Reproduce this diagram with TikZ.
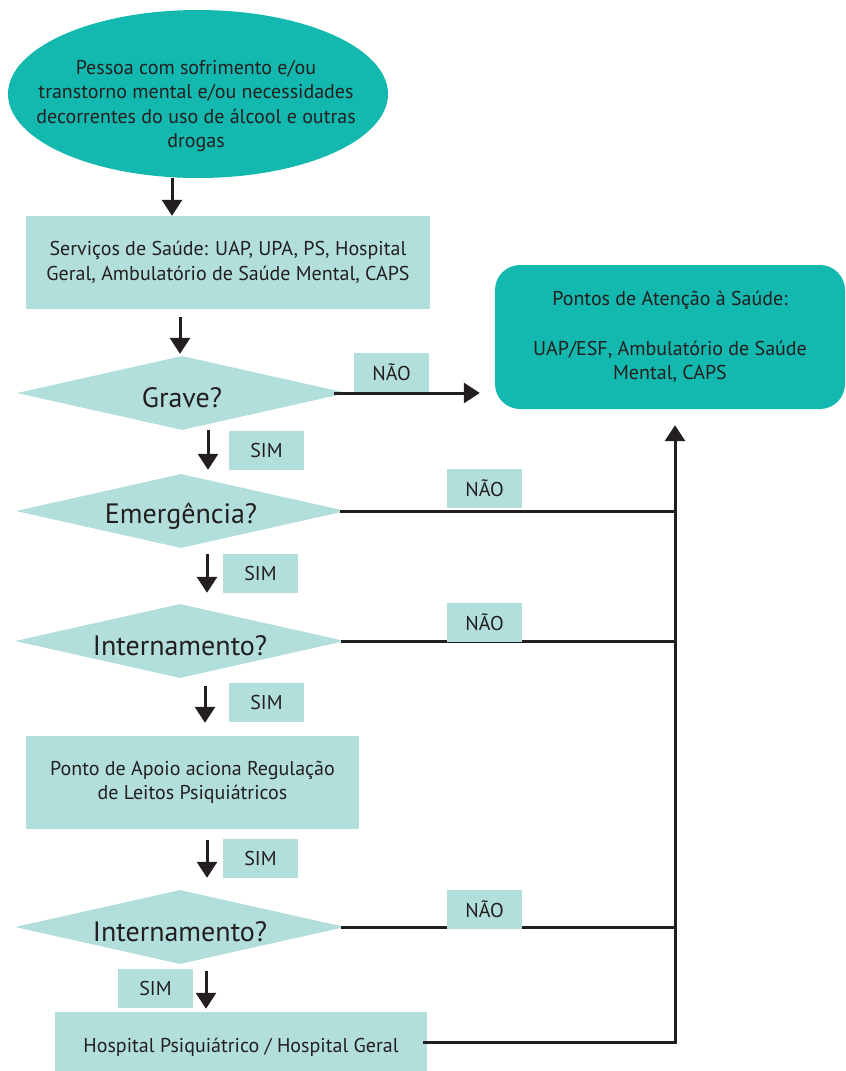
\documentclass[tikz,border=0pt]{standalone}
\usepackage{fontspec}
\setmainfont{PT Sans}
\usetikzlibrary{shapes.geometric,arrows.meta}
\definecolor{teal1}{HTML}{13B8AE}
\definecolor{light1}{HTML}{B2DFDB}
\definecolor{ink}{HTML}{231F20}
\newcommand{\lowtxt}[1]{\raisebox{-5pt}[\height][\depth]{#1}}
\begin{document}
\begin{tikzpicture}[x=1pt,y=-1pt,
 txt/.style={text=ink, font=\fontsize{20}{24.5}\selectfont, align=center},
 lightbox/.style={fill=light1, draw=none, inner sep=0pt, txt},
 tag/.style={fill=light1, minimum width=75pt, minimum height=39pt, inner sep=0pt, text=ink, font=\fontsize{20}{22}\selectfont},
 decision/.style={diamond, aspect=4.46, fill=light1, inner sep=0pt, minimum width=330pt, minimum height=74pt, text=ink, font=\fontsize{28}{32}\selectfont},
 conn/.style={draw=ink, line width=3pt},
 arr/.style={conn, -{Triangle[width=20pt,length=16pt]}},
]
\useasboundingbox (0,0) rectangle (846,1071);
% column coordinates
\coordinate (ax1) at (172,0);
\coordinate (ax2) at (180,0);
\coordinate (ax3) at (208,0);
\coordinate (ax4) at (207,0);
\coordinate (ax5) at (205,0);
\coordinate (ax6) at (207,0);
\coordinate (ax7) at (206,0);
\coordinate (vx) at (675,0);

% nodes
\node[ellipse, fill=teal1, minimum width=380pt, minimum height=168pt, inner sep=0pt] (ell) at (198,94) {};
\node[txt] (elltxt) at (196,106) {Pessoa com sofrimento e/ou\\transtorno mental e/ou necessidades\\decorrentes do uso de álcool e outras\\drogas};
\node[lightbox, minimum width=404pt, minimum height=93pt] (box1) at (228,262.5) {Serviços de Saúde: UAP, UPA, PS, Hospital\\Geral, Ambulatório de Saúde Mental, CAPS};
\node[txt, fill=teal1, rounded corners=25pt, minimum width=350pt, minimum height=144pt, inner sep=0pt] (pontos) at (670,337) {Pontos de Atenção à Saúde:\\[25pt]UAP/ESF, Ambulatório de Saúde\\Mental, CAPS};
\node[decision] (grave) at (182,393) {\lowtxt{Grave?}};
\node[decision] (emerg) at (181,511) {\lowtxt{Emergência?}};
\node[decision] (int1) at (180,641) {\lowtxt{Internamento?}};
\node[lightbox, minimum width=333pt, minimum height=93pt] (apoio) at (192.5,782.5) {Ponto de Apoio aciona Regulação\\de Leitos Psiquiátricos};
\node[decision] (int2) at (180,927) {\lowtxt{Internamento?}};
\node[lightbox, minimum width=372pt, minimum height=70pt] (hosp) at (241,1047) {Hospital Psiquiátrico / Hospital Geral};

% connectors
\draw[arr] (ell.south -| ax1) -- (box1.north -| ax1);
\draw[arr, shorten <=8pt, shorten >=2pt] (box1.south -| ax2) -- (grave.north -| ax2);
\draw[arr, shorten >=4pt] (grave.south -| ax3) -- (emerg.north -| ax3);
\draw[arr, shorten <=6pt, shorten >=11pt] (emerg.south -| ax4) -- (int1.north -| ax4);
\draw[arr, shorten <=8pt, shorten >=13pt] (int1.south -| ax5) -- (apoio.north -| ax5);
\draw[arr, shorten <=11pt, shorten >=12pt] (apoio.south -| ax6) -- (int2.north -| ax6);
\draw[arr, shorten <=7pt, shorten >=3pt] (int2.south -| ax7) -- (hosp.north -| ax7);
\draw[arr, shorten >=15pt] ([xshift=-13pt]grave.east) -- (grave.east -| pontos.west);
\draw[conn] ([xshift=-6pt]emerg.east) -- (emerg.east -| vx);
\draw[conn] ([xshift=-4pt]int1.east) -- (int1.east -| vx);
\draw[conn] ([xshift=-4pt]int2.east) -- (int2.east -| vx);
\draw[arr, shorten >=16pt] ([xshift=-4pt,yshift=5pt]hosp.east) -| (pontos.south -| vx);

% tags
\node[tag] (nao1) at (391.5,372.5) {NÃO};
\node[tag] (sim1) at (266.5,450.5) {SIM};
\node[tag] (nao2) at (484.5,488.5) {NÃO};
\node[tag] (sim2) at (260.5,573.5) {SIM};
\node[tag] (nao3) at (484.5,622) {NÃO};
\node[tag] (sim3) at (266.5,702.5) {SIM};
\node[tag] (sim4) at (260.5,858.5) {SIM};
\node[tag] (nao4) at (484.5,909) {NÃO};
\node[tag] (sim5) at (155.5,988.5) {SIM};
\end{tikzpicture}
\end{document}
